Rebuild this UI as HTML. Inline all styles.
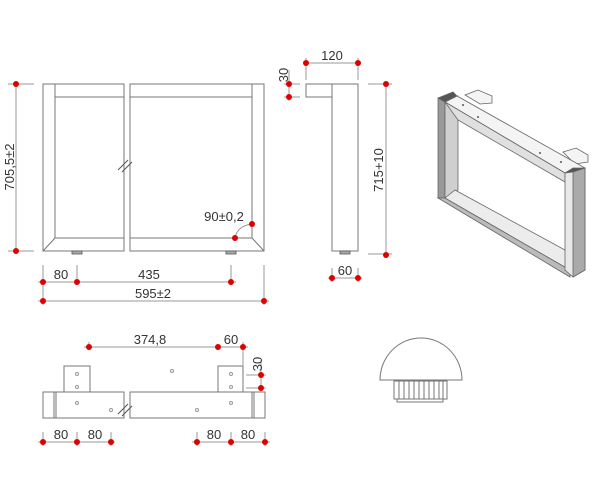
<!DOCTYPE html>
<html><head><meta charset="utf-8"><style>
html,body{margin:0;padding:0;background:#fff}
svg{display:block}
text{font-family:"Liberation Sans",sans-serif;font-size:13px;fill:#333}
</style></head><body>
<svg width="600" height="500" viewBox="0 0 600 500" xmlns="http://www.w3.org/2000/svg">
<g fill="none" stroke="#777" stroke-width="1">
<path d="M43,84 H124 V251 H43 Z"/>
<path d="M130,84 H264 V251 H130 Z"/>
<path d="M55,84 V238 H124 M55,97 H124 M43,251 L55,238"/>
<path d="M130,97 H252 M252,84 V238 H130 M264,251 L252,238"/>
<path d="M118,170 L128,160 M122,172 L132,162" stroke="#555"/>
<path d="M16,84 V251 M8,84 H34 M8,251 H34" stroke="#999"/>
<path d="M43,265 V305 M77,265 V285 M231,265 V285 M264,265 V305 M38,282 H236 M38,301 H269" stroke="#999"/>
<path d="M235,238 Q237,226 252,224" stroke="#999"/>
<path d="M306,84 H358 V251 H332 V97 H306 Z M332,84 V97"/>
<path d="M306,63 H358 M306,58 V80 M358,58 V80 M289,70 V101 M284,84 H300 M284,97 H300" stroke="#999"/>
<path d="M386,84 V254 M368,84 H392 M368,254 H392 M332,268 V282 M358,268 V282 M328,278 H362" stroke="#999"/>
<path d="M43,392 H124 V418 H43 Z M56,392 V418 M54,392 V418"/>
<path d="M130,392 H265 V418 H130 Z M252,392 V418 M254,392 V418"/>
<path d="M64,392 V366 H90 V392 M218,392 V366 H243 V392"/>
<path d="M118,414 L128,404 M122,416 L132,406" stroke="#555"/>
<path d="M84,347 H248 M243,342 V366 M89,342 V350 M246,375 H266 M246,388 H266 M261,360 V392" stroke="#999"/>
<path d="M38,442 H115 M43,432 V446 M77,432 V446 M111,432 V446 M192,442 H270 M197,432 V446 M231,432 V446 M265,432 V446" stroke="#999"/>
<path d="M380,380 A41,42 0 0 1 462,380 Z"/>
<path d="M394,381 H447 V399 H394 Z M397,399 H443 V402 H397 Z"/>
<path d="M399,381V399 M404,381V399 M409,381V399 M414,381V399 M419,381V399 M424,381V399 M429,381V399 M434,381V399 M439,381V399 M443,381V399"/>
</g>
<rect x="72" y="251" width="10" height="3" fill="#aaa" stroke="#555" stroke-width="0.8"/>
<rect x="226" y="251" width="10" height="3" fill="#aaa" stroke="#555" stroke-width="0.8"/>
<rect x="340" y="251" width="10" height="3" fill="#aaa" stroke="#555" stroke-width="0.8"/>
<g stroke="#666" stroke-width="0.8">
<polygon points="465,95 478,90 492,96 492,103 480,104" fill="#f4f4f4"/>
<polygon points="563,152 576,148 588,155 588,162 575,164" fill="#f4f4f4"/>
<polygon points="438,98 445,102 445,198 438,198" fill="#999"/>
<polygon points="445,102 458,96 458,190 445,198" fill="#cfcfcf"/>
<polygon points="438,198 445,198 570,270 570,277" fill="#bbb"/>
<polygon points="445,198 455,190 565,250 570,270" fill="#ececec"/>
<polygon points="445,102 457,96 585,168 565,173" fill="#f4f4f4"/>
<polygon points="445,102 565,173 565,182 458,120" fill="#e0e0e0"/>
<polygon points="438,98 453,92 457,96 445,102" fill="#555"/>
<polygon points="565,173 585,168 585,270 573,277 565,270" fill="#e8e8e8"/>
<polygon points="573,172 585,168 585,270 573,277" fill="#aaa"/>
<polygon points="565,173 573,168 585,168 573,172" fill="#555"/>
</g>
<g fill="#555">
<circle cx="463" cy="105" r="1"/><circle cx="478" cy="117" r="1"/><circle cx="540" cy="153" r="1"/><circle cx="561" cy="162" r="1"/>
<circle cx="172" cy="371" r="1.5" fill="none" stroke="#999"/>
</g>
<g fill="none" stroke="#999">
<circle cx="77" cy="374" r="1.5"/><circle cx="77" cy="387" r="1.5"/><circle cx="77" cy="403" r="1.5"/><circle cx="111" cy="410" r="1.5"/>
<circle cx="231" cy="374" r="1.5"/><circle cx="231" cy="387" r="1.5"/><circle cx="231" cy="403" r="1.5"/><circle cx="197" cy="410" r="1.5"/>
</g>
<g fill="#d00">
<circle cx="16" cy="84" r="3"/><circle cx="16" cy="251" r="3"/>
<circle cx="43" cy="282" r="3"/><circle cx="77" cy="282" r="3"/><circle cx="231" cy="282" r="3"/>
<circle cx="43" cy="301" r="3"/><circle cx="264" cy="301" r="3"/>
<circle cx="252" cy="224" r="3"/><circle cx="235" cy="238" r="3"/>
<circle cx="306" cy="63" r="3"/><circle cx="358" cy="63" r="3"/>
<circle cx="289" cy="84" r="3"/><circle cx="289" cy="97" r="3"/>
<circle cx="386" cy="84" r="3"/><circle cx="386" cy="255" r="3"/>
<circle cx="332" cy="278" r="3"/><circle cx="358" cy="278" r="3"/>
<circle cx="89" cy="347" r="3"/><circle cx="218" cy="347" r="3"/><circle cx="243" cy="347" r="3"/>
<circle cx="261" cy="375" r="3"/><circle cx="261" cy="388" r="3"/>
<circle cx="43" cy="442" r="3"/><circle cx="77" cy="442" r="3"/><circle cx="111" cy="442" r="3"/>
<circle cx="197" cy="442" r="3"/><circle cx="231" cy="442" r="3"/><circle cx="265" cy="442" r="3"/>
</g>
<text transform="translate(14,167) rotate(-90)" text-anchor="middle">705,5±2</text>
<text x="61" y="279" text-anchor="middle">80</text>
<text x="149" y="279" text-anchor="middle">435</text>
<text x="153" y="298" text-anchor="middle">595±2</text>
<text x="224" y="221" text-anchor="middle">90±0,2</text>
<text x="332" y="60" text-anchor="middle">120</text>
<text transform="translate(288,75) rotate(-90)" text-anchor="middle">30</text>
<text transform="translate(383,170) rotate(-90)" text-anchor="middle">715+10</text>
<text x="345" y="275" text-anchor="middle">60</text>
<text x="150" y="344" text-anchor="middle">374,8</text>
<text x="231" y="344" text-anchor="middle">60</text>
<text transform="translate(262,364) rotate(-90)" text-anchor="middle">30</text>
<text x="61" y="439" text-anchor="middle">80</text>
<text x="95" y="439" text-anchor="middle">80</text>
<text x="214" y="439" text-anchor="middle">80</text>
<text x="248" y="439" text-anchor="middle">80</text>
</svg>
</body></html>
